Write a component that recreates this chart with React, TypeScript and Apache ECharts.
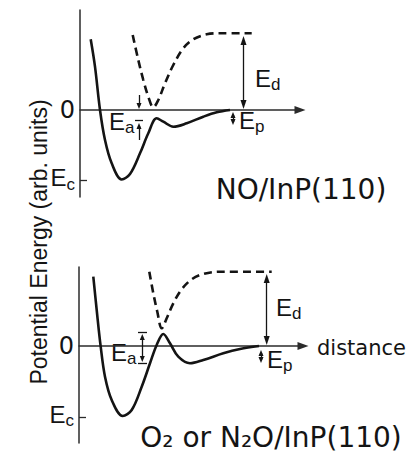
import React, { useEffect, useRef } from "react";
import * as echarts from "echarts";

// Energy profiles (arb. units) vs distance, NO/InP(110) panel
const topSolid: [number, number][] = [
  [10.7, 70.7], [15, 43.3], [20, 0], [25, -30], [31.7, -53.3], [41.7, -69.5],
  [50, -64], [60, -43.3], [68.3, -23.3], [76.7, -8.3], [83.3, -11.7],
  [93.3, -16.7], [106.7, -13.3], [123.3, -6.7], [136.7, -2.3], [150, 0],
];
const topDashed: [number, number][] = [
  [52.7, 75], [58.3, 50], [63.3, 30], [68.3, 13.3], [73.3, 2.7], [78.3, 10],
  [85, 26.7], [93.3, 45], [103.3, 61.7], [113.3, 70.7], [126.7, 75.7],
  [140, 76.7], [171.7, 76.7],
];
// O2 or N2O/InP(110) panel
const botSolid: [number, number][] = [
  [14.3, 69.3], [17.7, 36], [21.7, -0.7], [26, -30.7], [32.7, -54], [43.7, -70],
  [52.7, -64], [62.7, -40.7], [71, -17.3], [77.7, 1], [84.3, 12], [91, 2.7],
  [99.3, -10.7], [111, -17.3], [124.3, -14], [144.3, -7.3], [161, -3], [180, 0],
];
const botDashed: [number, number][] = [
  [70.3, 74.3], [74.3, 52.7], [78.3, 34.3], [82.7, 17.7], [87.7, 27.7],
  [94.3, 42.7], [102.7, 56.7], [112.7, 66.7], [124.3, 72], [141, 74.3],
  [192.7, 74.3],
];
const topEc = -70.5;
const botEc = -71;
const yTickLabels = ["0", "Ec"];
const titles = ["NO/InP(110)", "O₂ or N₂O/InP(110)"];
const yName = "Potential Energy (arb. units)";
const xName = "distance";

const INK = "#141414";
const AX = "#2b2b2b";
const TRI = "path://M5,0L10,14L0,14Z";
const LBL_FONT = "Liberation Sans";

const subRich: any = {
  e: { fontSize: 24, fontFamily: LBL_FONT, font: "24px 'Liberation Sans'", fill: INK, color: INK, lineHeight: 24, padding: [0, 0, 6, 0] },
  s: { fontSize: 17, fontFamily: LBL_FONT, font: "17px 'Liberation Sans'", fill: INK, color: INK, lineHeight: 12, verticalAlign: "bottom" },
  z: { fontSize: 24, fontFamily: "DejaVu Sans", font: "24px 'DejaVu Sans'", fill: INK, color: INK, lineHeight: 24 },
};

function sub(letter: string) {
  return "{e|E}{s|" + letter + "}";
}

function arrowLine(x: number, y1: number, y2: number, s1: boolean, s2: boolean, size: number[]) {
  return [
    { coord: [x, y1], symbol: s1 ? TRI : "none", symbolSize: size },
    { coord: [x, y2], symbol: s2 ? TRI : "none", symbolSize: size },
  ];
}
function bar(x1: number, x2: number, y: number) {
  return [
    { coord: [x1, y], symbol: "none" },
    { coord: [x2, y], symbol: "none" },
  ];
}

function makeYAxis(gi: number, min: number, max: number, ec: number) {
  return {
    gridIndex: gi,
    type: "value",
    min,
    max,
    axisLine: { show: true, onZero: false, lineStyle: { color: AX, width: 1.5 } },
    axisTick: { show: true, inside: true, length: 7, customValues: [ec], lineStyle: { color: AX, width: 1.3 } },
    axisLabel: {
      show: true,
      customValues: [0, ec],
      margin: 5,
      color: INK,
      fontSize: 24,
      fontFamily: LBL_FONT,
      formatter: (v: number) => (v === 0 ? "{z|" + yTickLabels[0] + "}" : sub(yTickLabels[1].slice(1))),
      rich: subRich,
    },
    splitLine: { show: false },
  };
}
function makeXAxis(gi: number, max: number) {
  return {
    gridIndex: gi,
    type: "value",
    min: 0,
    max,
    axisLine: {
      show: true,
      onZero: true,
      symbol: ["none", TRI],
      symbolSize: [8, 11],
      lineStyle: { color: AX, width: 1.5 },
    },
    axisTick: { show: false },
    axisLabel: { show: false },
    splitLine: { show: false },
  };
}

const markStyle = {
  silent: true,
  animation: false,
  label: { show: false },
  lineStyle: { color: INK, width: 1.3, type: "solid" },
  emphasis: { disabled: true },
};

function textEl(text: string, x: number, y: number, extra: any = {}) {
  return {
    type: "text",
    x,
    y,
    silent: true,
    style: {
      text,
      fill: INK,
      fontFamily: LBL_FONT,
      fontSize: 24,
      align: "left",
      verticalAlign: "middle",
      textAlign: "left",
      textVerticalAlign: "middle",
      rich: subRich,
      ...extra,
    },
  };
}

export default function App() {
  const ref = useRef<HTMLDivElement>(null);
  useEffect(() => {
    document.body.style.margin = "0";
    const chart = echarts.init(ref.current!, null, { renderer: "svg" });
    const option: any = {
      animation: false,
      backgroundColor: "#ffffff",
      grid: [
        { left: 80, top: 10, width: 220, height: 187 },
        { left: 79, top: 267, width: 224, height: 176 },
      ],
      xAxis: [makeXAxis(0, 220), makeXAxis(1, 224)],
      yAxis: [makeYAxis(0, -87, 100, topEc), makeYAxis(1, -97, 79, botEc)],
      series: [
        {
          type: "line", xAxisIndex: 0, yAxisIndex: 0, data: topSolid, smooth: 0.35,
          symbol: "none", lineStyle: { color: INK, width: 2.6 },
          markLine: {
            ...markStyle,
            data: [
              arrowLine(163.5, 69.5, 5.5, true, true, [6, 9]),
              arrowLine(153, -5, -12, true, true, [5, 6]),
              arrowLine(59, 15, 4, false, true, [5, 6]),
              arrowLine(59, -30, -16, false, true, [5, 6]),
              bar(55, 63, -10),
            ],
          },
        },
        {
          type: "line", xAxisIndex: 0, yAxisIndex: 0, data: topDashed, smooth: 0.35,
          symbol: "none", lineStyle: { color: INK, width: 2.6, type: [8, 5] },
        },
        {
          type: "line", xAxisIndex: 1, yAxisIndex: 1, data: botSolid, smooth: 0.35,
          symbol: "none", lineStyle: { color: INK, width: 2.6 },
          markLine: {
            ...markStyle,
            data: [
              arrowLine(187.7, 67.5, 5.5, true, true, [6, 9]),
              arrowLine(182, -7, -14, true, true, [5, 6]),
              arrowLine(63.3, 9, -13, true, true, [5, 6]),
              bar(59, 68, 13.3),
              bar(59, 68, -17.3),
            ],
          },
        },
        {
          type: "line", xAxisIndex: 1, yAxisIndex: 1, data: botDashed, smooth: 0.35,
          symbol: "none", lineStyle: { color: INK, width: 2.6, type: [8, 5] },
        },
      ],
      graphic: [
        textEl(sub("a"), 109, 124),
        textEl(sub("p"), 239, 123),
        textEl(sub("d"), 255, 81),
        textEl(sub("a"), 111, 355),
        textEl(sub("p"), 267, 362),
        textEl(sub("d"), 276, 310),
        textEl(titles[0], 301, 189, { fontFamily: "DejaVu Sans", fontSize: 28, align: "center", textAlign: "center", rich: undefined }),
        textEl(titles[1], 271, 437, { fontFamily: "DejaVu Sans", fontSize: 28, align: "center", textAlign: "center", rich: undefined }),
        textEl(xName, 317, 348, { fontFamily: "DejaVu Sans", fontSize: 21, rich: undefined }),
        {
          type: "text",
          x: 39,
          y: 242,
          rotation: Math.PI / 2,
          silent: true,
          style: {
            text: yName,
            fill: INK,
            fontFamily: LBL_FONT,
            fontSize: 23,
            align: "center",
            verticalAlign: "middle",
            textAlign: "center",
            textVerticalAlign: "middle",
          },
        },
      ],
    };
    chart.setOption(option);
    return () => chart.dispose();
  }, []);
  return <div ref={ref} style={{ width: 409, height: 460 }} />;
}
